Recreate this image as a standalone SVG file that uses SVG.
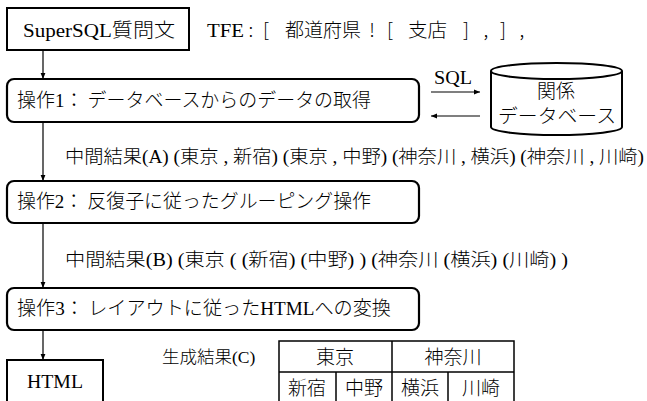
<svg xmlns="http://www.w3.org/2000/svg" width="647" height="401" viewBox="0 0 647 401">
<defs>
<marker id="ah" viewBox="0 0 10 10" refX="10" refY="5" markerWidth="6" markerHeight="6" orient="auto" markerUnits="userSpaceOnUse">
<path d="M0,1 L10,5 L0,9 z" fill="#000"/>
</marker>
</defs>
<style>
text{font-family:"Liberation Serif","Noto Sans CJK JP",serif;fill:#000}
.j{font-family:"Noto Sans CJK JP",sans-serif;font-weight:300}
.box{fill:#fff;stroke:#000;stroke-width:2}
.op{fill:#fff;stroke:#000;stroke-width:2.2}
.ln{fill:none;stroke:#000;stroke-width:1.2}
.big{font-size:19px}
.mid{font-size:18.5px}
.tb{fill:none;stroke:#000;stroke-width:1.5}
.c{text-anchor:middle}
</style>
<rect width="647" height="401" fill="#fff"/>
<g id="connectors">
<line class="ln" x1="43" y1="50" x2="43" y2="79" marker-end="url(#ah)"/>
<line class="ln" x1="43" y1="122" x2="43" y2="181" marker-end="url(#ah)"/>
<line class="ln" x1="43" y1="223" x2="43" y2="288" marker-end="url(#ah)"/>
<line class="ln" x1="43" y1="330" x2="43" y2="360" marker-end="url(#ah)"/>
<line class="ln" x1="431" y1="92" x2="480" y2="92" marker-end="url(#ah)"/>
<line class="ln" x1="480" y1="116" x2="431" y2="116" marker-end="url(#ah)"/>
<text x="434" y="84" class="big" textLength="38" lengthAdjust="spacingAndGlyphs">SQL</text>
</g>
<g id="query">
<rect class="box" x="7" y="8" width="182" height="42"/>
<text x="23" y="37" class="big" textLength="152" lengthAdjust="spacingAndGlyphs">SuperSQL<tspan class="j">質問文</tspan></text>
</g>
<g id="tfe" class="big">
<text x="207" y="37" textLength="37" lengthAdjust="spacingAndGlyphs">TFE</text>
<text x="251" y="37" class="j c">:</text>
<text x="266" y="37" class="j c">[</text>
<text x="285" y="37" class="j" textLength="76" lengthAdjust="spacingAndGlyphs">都道府県</text>
<text x="372" y="37" class="j c">!</text>
<text x="390" y="37" class="j c">[</text>
<text x="408" y="37" class="j" textLength="39" lengthAdjust="spacingAndGlyphs">支店</text>
<text x="466" y="37" class="j c">]</text>
<text x="486" y="37" class="j c">,</text>
<text x="503" y="37" class="j c">]</text>
<text x="522" y="37" class="j c">,</text>
</g>
<g id="op1">
<rect class="op" x="7" y="79" width="412" height="43" rx="7"/>
<text x="17" y="107" class="big" textLength="354" lengthAdjust="spacingAndGlyphs"><tspan class="j">操作</tspan>1<tspan class="j">： データベースからのデータの取得</tspan></text>
</g>
<g id="db">
<path class="box" d="M491,71 L491,127 A65.5,8 0 0 0 622,127 L622,71"/>
<ellipse class="box" cx="556.5" cy="71" rx="65.5" ry="8"/>
<text x="556" y="98" class="big j c">関係</text>
<text x="557" y="123" class="big j c" textLength="118" lengthAdjust="spacingAndGlyphs">データベース</text>
</g>
<text x="65" y="163" class="mid" textLength="579" lengthAdjust="spacingAndGlyphs"><tspan class="j">中間結果</tspan>(A) (<tspan class="j">東京</tspan> , <tspan class="j">新宿</tspan>) (<tspan class="j">東京</tspan> , <tspan class="j">中野</tspan>) (<tspan class="j">神奈川</tspan> , <tspan class="j">横浜</tspan>) (<tspan class="j">神奈川</tspan> , <tspan class="j">川崎</tspan>)</text>
<g id="op2">
<rect class="op" x="7" y="181" width="412" height="42" rx="7"/>
<text x="17" y="208" class="big" textLength="354" lengthAdjust="spacingAndGlyphs"><tspan class="j">操作</tspan>2<tspan class="j">： 反復子に従ったグルーピング操作</tspan></text>
</g>
<text x="65" y="266" class="mid" textLength="503" lengthAdjust="spacingAndGlyphs"><tspan class="j">中間結果</tspan>(B) (<tspan class="j">東京</tspan> ( (<tspan class="j">新宿</tspan>) (<tspan class="j">中野</tspan>) ) (<tspan class="j">神奈川</tspan> (<tspan class="j">横浜</tspan>) (<tspan class="j">川崎</tspan>) )</text>
<g id="op3">
<rect class="op" x="7" y="288" width="412" height="42" rx="7"/>
<text x="17" y="315" class="big" textLength="374" lengthAdjust="spacingAndGlyphs"><tspan class="j">操作</tspan>3<tspan class="j">： レイアウトに従った</tspan>HTML<tspan class="j">への変換</tspan></text>
</g>
<g id="html">
<rect class="box" x="7" y="360" width="96" height="50"/>
<text x="27" y="388" class="big" textLength="56" lengthAdjust="spacingAndGlyphs">HTML</text>
</g>
<text x="162" y="363" style="font-size:17.5px"><tspan class="j">生成結果</tspan>(C)</text>
<g id="table">
<rect class="tb" x="279" y="341" width="235" height="70"/>
<line class="tb" x1="279" y1="372" x2="514" y2="372"/>
<line class="tb" x1="392" y1="341" x2="392" y2="401"/>
<line class="tb" x1="336" y1="372" x2="336" y2="401"/>
<line class="tb" x1="448" y1="372" x2="448" y2="401"/>
<text x="335" y="364" class="big j c">東京</text>
<text x="453" y="364" class="big j c">神奈川</text>
<text x="307" y="395" class="big j c">新宿</text>
<text x="364" y="395" class="big j c">中野</text>
<text x="420" y="395" class="big j c">横浜</text>
<text x="481" y="395" class="big j c">川崎</text>
</g>
</svg>
